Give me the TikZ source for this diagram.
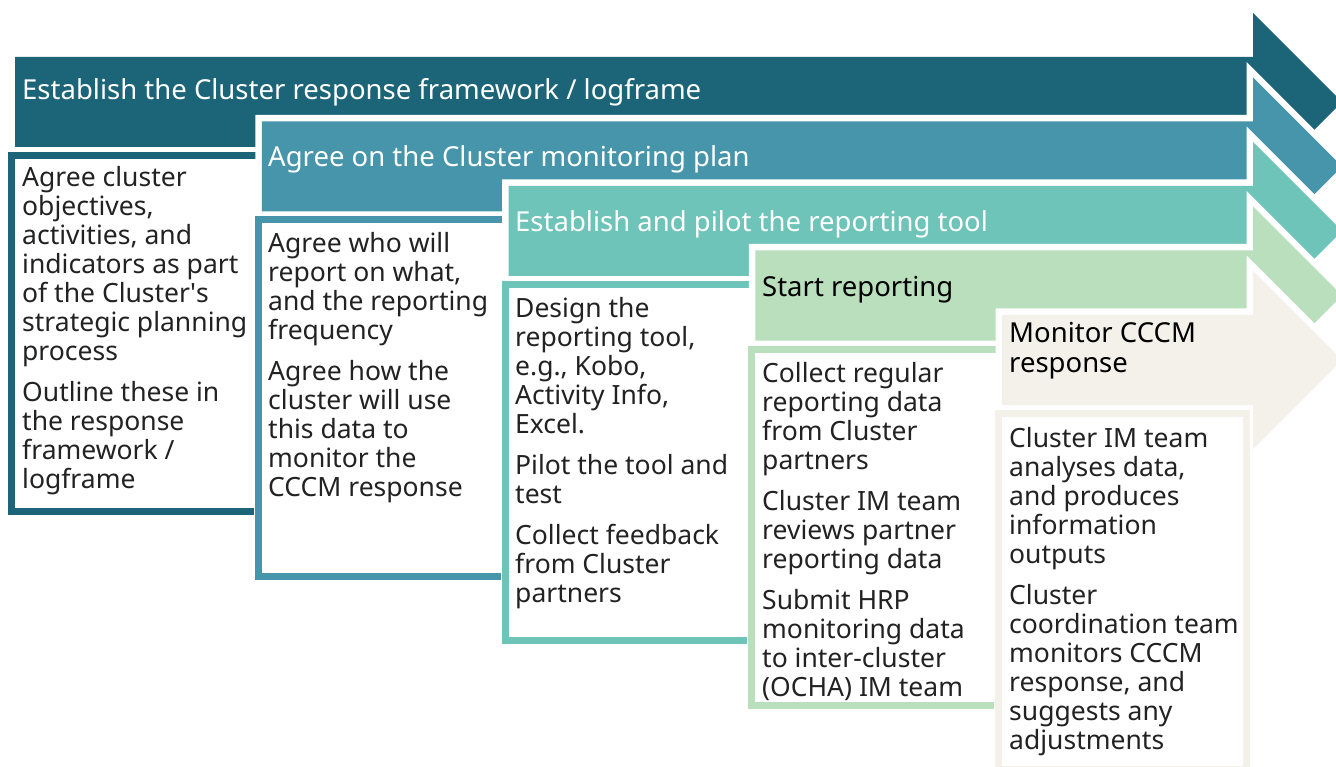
\documentclass[tikz,border=0pt]{standalone}
\usepackage{fontspec}
\setmainfont{Noto Sans}
\definecolor{stepA}{HTML}{1C6478}
\definecolor{stepB}{HTML}{4795AA}
\definecolor{stepC}{HTML}{6EC4B9}
\definecolor{stepD}{HTML}{B9DFBC}
\definecolor{stepE}{HTML}{F3F1EA}
\definecolor{bodytext}{HTML}{222222}
\tikzset{
  band/.style={fill=#1, preaction={draw=white, line width=13pt, line join=miter}},
  frame/.style={draw=#1, line width=7pt, fill=white, preaction={draw=white, line width=9pt}},
  headtext/.style={anchor=north west, inner sep=0pt, align=left,
    font=\fontsize{27.5}{29.5}\selectfont, execute at begin node=\strut},
  bodytxt/.style={anchor=north west, inner sep=0pt, align=left, text=bodytext,
    font=\fontsize{26.5}{29}\selectfont, execute at begin node=\strut},
}
\newcommand{\para}{\\[12pt]}
\begin{document}
\begin{tikzpicture}[x=1pt,y=-1pt]
\useasboundingbox (0,0) rectangle (1336,767);
\clip (0,0) rectangle (1336,767);
% step geometry: header top T, header left L
\foreach \k/\col in {0/stepA,1/stepB,2/stepC,3/stepD,4/stepE}{
  \pgfmathsetmacro{\T}{57+64.5*\k}
  \pgfmathsetmacro{\L}{15+246.75*\k}
  % arrow band (header + chevron)
  \path[band=\col] (\L,\T) -- (1253,\T) -- (1253,\T-44) -- (1342,\T+45)
     -- (1253,\T+134) -- (1253,\T+90) -- (\L,\T+90) -- cycle;
  % detail box below the header
  \path[frame=\col] (\L-3.5,\T+98.5) rectangle (\L+244.5,\T+454.5);
}
% header texts (node top = baseline - 20.65)
\node[headtext, text=white] (h1) at (22,99-20.65) {Establish the Cluster response framework / logframe};
\node[headtext, text=white] (h2) at (268,166-20.65) {Agree on the Cluster monitoring plan};
\node[headtext, text=white] (h3) at (515,231-20.65) {Establish and pilot the reporting tool};
\node[headtext, text=black] (h4) at (762,296-20.65) {Start reporting};
\node[headtext, text=black] (h5) at (1009,343-20.65) {Monitor CCCM\\response};
% body texts (node top = baseline - 20.3)
\node[bodytxt] (b1) at (22,186-20.3) {Agree cluster\\objectives,\\activities, and\\indicators as part\\of the Cluster\textquotesingle s\\strategic planning\\process\para Outline these in\\the response\\framework /\\logframe};
\node[bodytxt] (b2) at (268,252-20.3) {Agree who will\\report on what,\\and the reporting\\frequency\para Agree how the\\cluster will use\\this data to\\monitor the\\CCCM response};
\node[bodytxt] (b3) at (515,317-20.3) {Design the\\reporting tool,\\e.g., Kobo,\\Activity Info,\\Excel.\para Pilot the tool and\\test\para Collect feedback\\from Cluster\\partners};
\node[bodytxt] (b4) at (762,382-20.3) {Collect regular\\reporting data\\from Cluster\\partners\para Cluster IM team\\reviews partner\\reporting data\para Submit HRP\\monitoring data\\to inter-cluster\\(OCHA) IM team};
\node[bodytxt] (b5) at (1009,447-20.3) {Cluster IM team\\analyses data,\\and produces\\information\\outputs\para Cluster\\coordination team\\monitors CCCM\\response, and\\suggests any\\adjustments};
\end{tikzpicture}
\end{document}
